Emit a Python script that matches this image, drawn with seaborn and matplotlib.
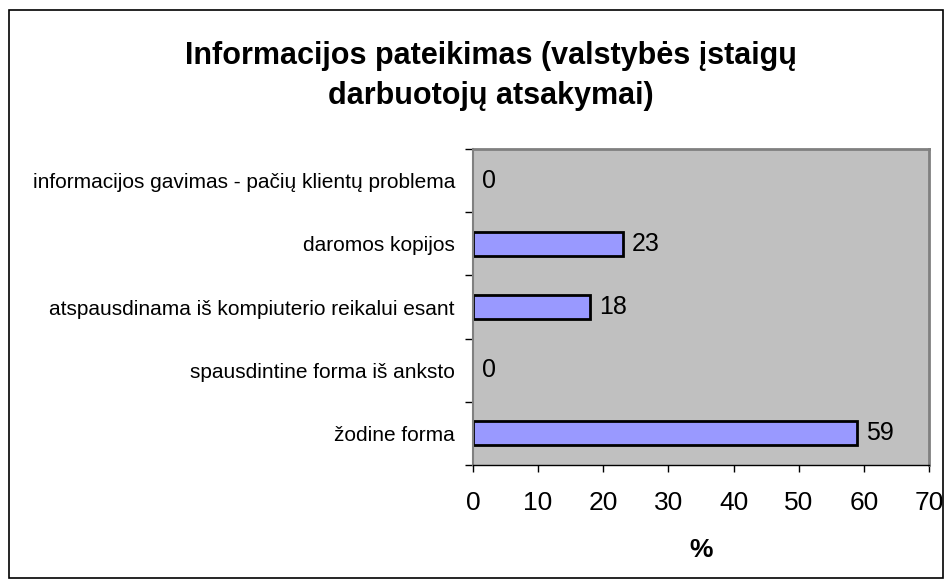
import matplotlib
matplotlib.use("Agg")
import matplotlib.pyplot as plt
import pandas as pd
import seaborn as sns

# Data
categories = [
    "informacijos gavimas - pačių klientų problema",
    "daromos kopijos",
    "atspausdinama iš kompiuterio reikalui esant",
    "spausdintine forma iš anksto",
    "žodine forma",
]
values = [0, 23, 18, 0, 59]
x_ticks = [0, 10, 20, 30, 40, 50, 60, 70]

TITLE = "Informacijos pateikimas (valstybės įstaigų\ndarbuotojų atsakymai)"
BAR_COLOR = "#9999FF"
PLOT_BG = "#C0C0C0"

sns.set_style("white")
plt.rcParams["font.family"] = ["Liberation Sans", "DejaVu Sans"]
plt.rcParams["text.color"] = "black"
plt.rcParams["xtick.color"] = "black"
plt.rcParams["ytick.color"] = "black"
plt.rcParams["axes.labelcolor"] = "black"

df = pd.DataFrame({"category": categories, "value": values})

fig = plt.figure(figsize=(9.52, 5.87), dpi=100)
ax = fig.add_axes([0.4968, 0.2078, 0.4790, 0.5384])
ax.set_facecolor(PLOT_BG)

sns.barplot(
    data=df,
    x="value",
    y="category",
    orient="h",
    color=BAR_COLOR,
    saturation=1,
    width=0.38,
    edgecolor="black",
    linewidth=2,
    ax=ax,
)
# zero-length bars are not drawn in the original
for patch in ax.patches:
    if patch.get_width() == 0:
        patch.set_visible(False)

for i, v in enumerate(values):
    ax.text(v + 1.4, i, str(v), va="center", ha="left", fontsize=18)

ax.set_xlim(0, 70)
ax.set_ylim(4.5, -0.5)
ax.set_xticks(x_ticks)
ax.set_xticklabels([str(t) for t in x_ticks], fontsize=19)
ax.tick_params(axis="x", length=5, width=1, pad=14, direction="out", bottom=True)
ax.tick_params(axis="y", which="major", length=0, labelsize=15, pad=13)
ax.set_yticks([i - 0.5 for i in range(6)], minor=True)
ax.tick_params(axis="y", which="minor", length=6, width=1, left=True)
ax.set_xlabel("%", fontsize=19, fontweight="bold", labelpad=16)
ax.set_ylabel("")

for side in ["top", "right"]:
    ax.spines[side].set_color("#808080")
    ax.spines[side].set_linewidth(2)
ax.spines["left"].set_color("#808080")
ax.spines["left"].set_linewidth(1.5)
ax.spines["bottom"].set_color("black")
ax.spines["bottom"].set_linewidth(1)

fig.text(0.516, 0.871, TITLE, ha="center", va="center", fontsize=22,
         fontweight="bold", linespacing=1.45)

border = plt.Rectangle((0.0095, 0.015), 0.981, 0.968, transform=fig.transFigure,
                       fill=False, edgecolor="black", linewidth=1.2)
fig.patches.append(border)

fig.savefig("out.png", dpi=100)
